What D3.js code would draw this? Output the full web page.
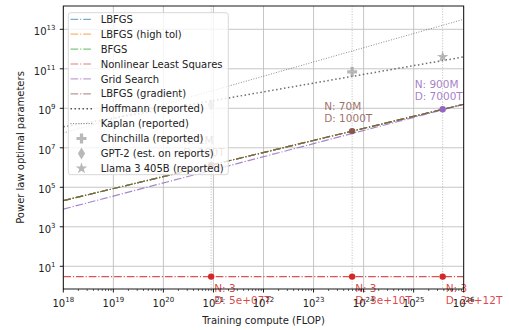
<!DOCTYPE html>
<html lang="en">
<head>
<meta charset="UTF-8">
<title>Power law optimal parameters</title>
<style>
  body { margin: 0; background: #fff; }
  text { font-family: "DejaVu Sans", sans-serif; fill: #222; }
</style>
</head>
<body>
<script src="https://d3js.org/d3.v7.min.js"></script>
<script>
// fitted power laws, read at the two ends of the compute range
var lineCompute = [1e18, 1e26];
var fitNames = ["LBFGS", "LBFGS (high tol)", "BFGS", "Nonlinear Least Squares", "Grid Search", "LBFGS (gradient)"];
var fitColors = ["#1f77b4", "#ff7f0e", "#2ca02c", "#d62728", "#9467bd", "#8c564b"];
var fitValues = [
  [2.1e4, 1.6e9],
  [2.1e4, 1.6e9],
  [2.1e4, 1.6e9],
  [3, 3],
  [7.8e3, 1.6e9],
  [2.1e4, 1.6e9]
];
var hoffmannValues = [1.15e8, 4.0e11];
var kaplanValues = [5.6e7, 3.2e13];

// reported models
var modelNames = ["Chinchilla (reported)", "GPT-2 (est. on reports)", "Llama 3 405B (reported)"];
var modelCompute = [5.9e23, 9e20, 3.8e25];
var modelParams = [7e10, 1.5e9, 4.05e11];
var modelSymbols = ["plus", "diamond", "star"];

// annotated optimal points
var pointCompute = [9e20, 5.9e23, 9e20, 5.9e23, 3.8e25, 3.8e25];
var pointParams = [1.3e6, 7e7, 3, 3, 3, 9e8];
var pointFit = [5, 5, 3, 3, 3, 4];
var pointN = ["N: 1M", "N: 70M", "N: 3", "N: 3", "N: 3", "N: 900M"];
var pointD = ["D: 100T", "D: 1000T", "D: 5e+07T", "D: 3e+10T", "D: 2e+12T", "D: 7000T"];

var xTicks = d3.range(18, 27);
var yTicks = [1, 3, 5, 7, 9, 11, 13];

var W = 509, H = 330;
var pL = 63.3, pR = 463.7, pT = 6, pB = 289;

var x = d3.scaleLog().domain([1e18, 1e26]).range([pL, pR]);
var y = d3.scaleLog().domain([Math.pow(10, -0.15), Math.pow(10, 14.18)]).range([pB, pT]);

var svg = d3.select("body").append("svg")
    .attr("width", W)
    .attr("height", H);

svg.append("clipPath").attr("id", "plotclip")
  .append("rect")
    .attr("x", pL).attr("y", pT)
    .attr("width", pR - pL).attr("height", pB - pT);

// grid
svg.append("g").selectAll("line")
    .data(xTicks).enter().append("line")
    .attr("x1", function(d) { return x(Math.pow(10, d)); })
    .attr("x2", function(d) { return x(Math.pow(10, d)); })
    .attr("y1", pT).attr("y2", pB)
    .attr("stroke", "#c0c0c0").attr("stroke-width", 0.9);
svg.append("g").selectAll("line")
    .data(yTicks).enter().append("line")
    .attr("y1", function(d) { return y(Math.pow(10, d)); })
    .attr("y2", function(d) { return y(Math.pow(10, d)); })
    .attr("x1", pL).attr("x2", pR)
    .attr("stroke", "#c0c0c0").attr("stroke-width", 0.9);

var plot = svg.append("g").attr("clip-path", "url(#plotclip)");

// vertical reference lines at each model compute
plot.selectAll("line.ref")
    .data(modelCompute).enter().append("line")
    .attr("x1", function(d) { return x(d); })
    .attr("x2", function(d) { return x(d); })
    .attr("y1", pT).attr("y2", pB)
    .attr("stroke", "#bbbbbb").attr("stroke-width", 1)
    .attr("stroke-dasharray", "1,1.65");

var line = d3.line()
    .x(function(d) { return x(d[0]); })
    .y(function(d) { return y(d[1]); });

function pairs(vals) { return lineCompute.map(function(c, i) { return [c, vals[i]]; }); }

// fitted lines
fitValues.forEach(function(v, i) {
  plot.append("path")
      .datum(pairs(v))
      .attr("d", line)
      .attr("fill", "none")
      .attr("stroke", fitColors[i])
      .attr("stroke-opacity", 0.8)
      .attr("stroke-width", 1.2)
      .attr("stroke-dasharray", "7.7,1.9,1.2,1.9");
});

plot.append("path")
    .datum(pairs(hoffmannValues))
    .attr("d", line)
    .attr("fill", "none")
    .attr("stroke", "#555")
    .attr("stroke-opacity", 0.85)
    .attr("stroke-width", 1.5)
    .attr("stroke-dasharray", "1.5,2.5");

plot.append("path")
    .datum(pairs(kaplanValues))
    .attr("d", line)
    .attr("fill", "none")
    .attr("stroke", "#666")
    .attr("stroke-opacity", 0.85)
    .attr("stroke-width", 0.9)
    .attr("stroke-dasharray", "1,1.6");

// marker shapes
var plusPath = "M-1.6,-5H1.6V-1.6H5V1.6H1.6V5H-1.6V1.6H-5V-1.6H-1.6Z";
var diamondPath = "M0,-6L3.6,0L0,6L-3.6,0Z";
var starPath = d3.symbol().type(d3.symbolStar).size(42)();
var symbolPaths = { plus: plusPath, diamond: diamondPath, star: starPath };

plot.selectAll("path.model")
    .data(modelNames).enter().append("path")
    .attr("d", function(d, i) { return symbolPaths[modelSymbols[i]]; })
    .attr("transform", function(d, i) { return "translate(" + x(modelCompute[i]) + "," + y(modelParams[i]) + ")"; })
    .attr("fill", "#9a9a9a")
    .attr("fill-opacity", 0.7);

// optimal points
svg.selectAll("circle.pt")
    .data(pointCompute).enter().append("circle")
    .attr("cx", function(d) { return x(d); })
    .attr("cy", function(d, i) { return y(pointParams[i]); })
    .attr("r", 3.2)
    .attr("fill", function(d, i) { return fitColors[pointFit[i]]; });

var labels = svg.append("g");
pointCompute.forEach(function(c, i) {
  var px = x(c), py = y(pointParams[i]);
  var below = pointFit[i] === 3;
  var tx = below ? px + 3 : px - 28;
  var y1 = below ? py + 15 : py - 21;
  var col = fitColors[pointFit[i]];
  labels.append("text").attr("x", tx).attr("y", y1)
      .attr("font-size", 10.5).style("fill", col).attr("fill-opacity", 0.85)
      .text(pointN[i]);
  labels.append("text").attr("x", tx).attr("y", y1 + 12)
      .attr("font-size", 10.5).style("fill", col).attr("fill-opacity", 0.85)
      .text(pointD[i]);
});

// legend
var legendNames = fitNames.concat(["Hoffmann (reported)", "Kaplan (reported)"]).concat(modelNames);
var lg = svg.append("g");
lg.append("rect")
    .attr("x", 68.3).attr("y", 12.7)
    .attr("width", 160).attr("height", 162)
    .attr("rx", 2.5)
    .attr("fill", "#fff").attr("fill-opacity", 0.8)
    .attr("stroke", "#d4d4d4").attr("stroke-width", 0.9);

var rowY = function(i) { return 19.3 + i * 14.9; };
legendNames.forEach(function(name, i) {
  var cy = rowY(i);
  if (i < 6) {
    lg.append("line").attr("x1", 70.5).attr("x2", 92.5).attr("y1", cy).attr("y2", cy)
        .attr("stroke", fitColors[i]).attr("stroke-opacity", 0.6).attr("stroke-width", 1.2)
        .attr("stroke-dasharray", "7.7,1.9,1.2,1.9");
  } else if (i === 6) {
    lg.append("line").attr("x1", 70.5).attr("x2", 92.5).attr("y1", cy).attr("y2", cy)
        .attr("stroke", "#555").attr("stroke-width", 1.5).attr("stroke-dasharray", "1.5,2.5");
  } else if (i === 7) {
    lg.append("line").attr("x1", 70.5).attr("x2", 92.5).attr("y1", cy).attr("y2", cy)
        .attr("stroke", "#666").attr("stroke-width", 0.9).attr("stroke-dasharray", "1,1.6");
  } else {
    lg.append("path").attr("d", symbolPaths[modelSymbols[i - 8]])
        .attr("transform", "translate(81.5," + cy + ")")
        .attr("fill", "#9a9a9a").attr("fill-opacity", 0.7);
  }
  lg.append("text").attr("x", 100.7).attr("y", cy + 3.6)
      .attr("font-size", 10).text(name);
});

// frame
svg.append("rect")
    .attr("x", pL).attr("y", pT)
    .attr("width", pR - pL).attr("height", pB - pT)
    .attr("fill", "none").attr("stroke", "#000").attr("stroke-width", 0.9);

// x axis ticks
var minor = [];
xTicks.slice(0, -1).forEach(function(e) {
  for (var k = 2; k < 10; k++) minor.push(k * Math.pow(10, e));
});
svg.append("g").selectAll("line")
    .data(minor).enter().append("line")
    .attr("x1", function(d) { return x(d); }).attr("x2", function(d) { return x(d); })
    .attr("y1", pB).attr("y2", pB + 2)
    .attr("stroke", "#000").attr("stroke-width", 0.6);

var xt = svg.append("g").selectAll("g")
    .data(xTicks).enter().append("g")
    .attr("transform", function(d) { return "translate(" + x(Math.pow(10, d)) + ",0)"; });
xt.append("line").attr("y1", pB).attr("y2", pB + 3.5)
    .attr("stroke", "#000").attr("stroke-width", 0.9);
var xl = xt.append("text").attr("y", 307).attr("text-anchor", "middle").attr("font-size", 10);
xl.append("tspan").text("10");
xl.append("tspan").attr("dy", -5).attr("font-size", 7).text(function(d) { return d; });

var yt = svg.append("g").selectAll("g")
    .data(yTicks).enter().append("g")
    .attr("transform", function(d) { return "translate(0," + y(Math.pow(10, d)) + ")"; });
yt.append("line").attr("x1", pL).attr("x2", pL - 3.5)
    .attr("stroke", "#000").attr("stroke-width", 0.9);
var yl = yt.append("text").attr("x", 55.5).attr("y", 6).attr("text-anchor", "end").attr("font-size", 10);
yl.append("tspan").text("10");
yl.append("tspan").attr("dy", -5).attr("font-size", 7).text(function(d) { return d; });

// axis labels
svg.append("text")
    .attr("x", (pL + pR) / 2).attr("y", 324)
    .attr("text-anchor", "middle").attr("font-size", 10)
    .text("Training compute (FLOP)");
svg.append("text")
    .attr("transform", "translate(23.5," + (pT + pB) / 2 + ") rotate(-90)")
    .attr("text-anchor", "middle").attr("font-size", 10)
    .text("Power law optimal parameters");
</script>
</body>
</html>
